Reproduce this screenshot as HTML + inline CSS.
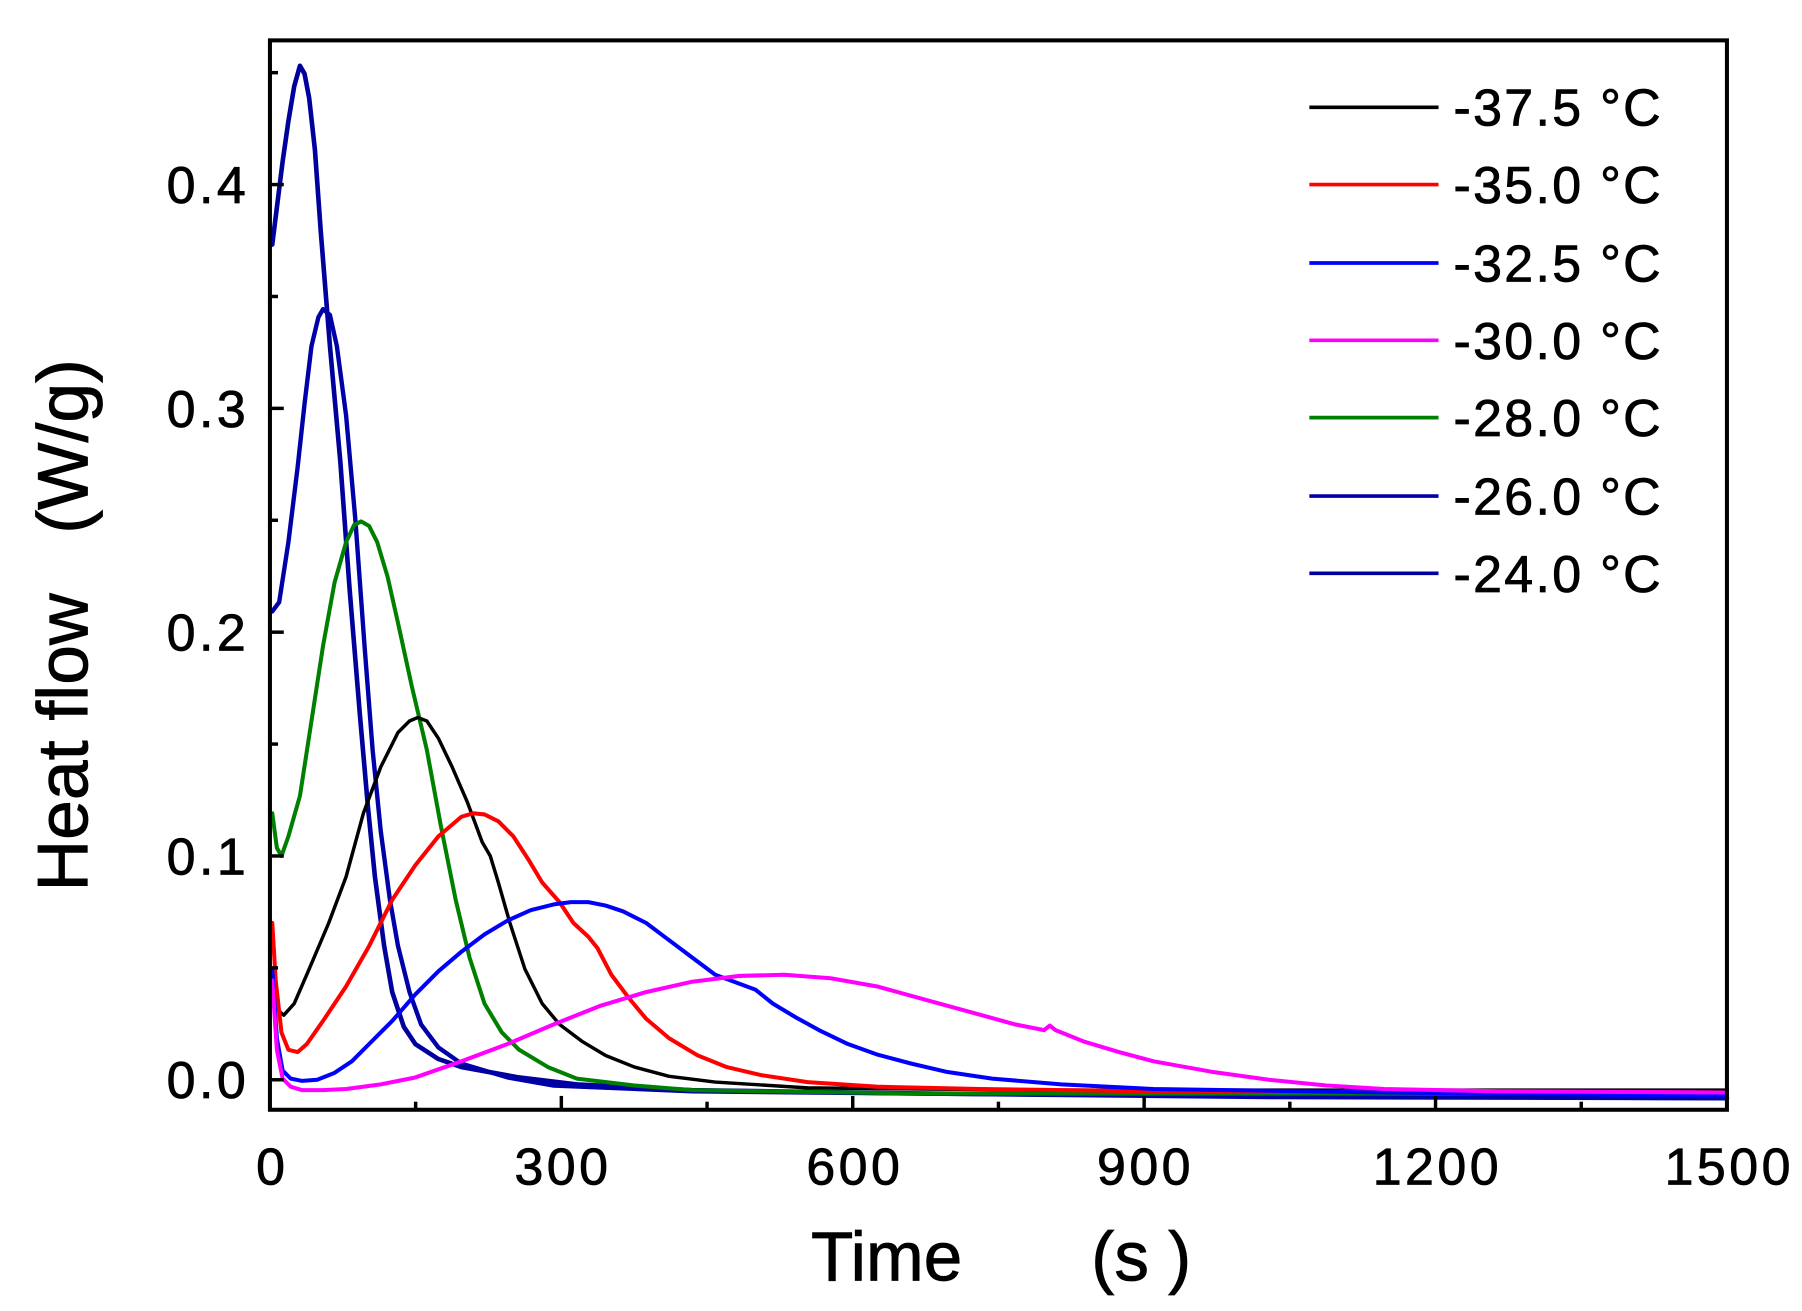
<!DOCTYPE html>
<html><head><meta charset="utf-8"><style>
html,body{margin:0;padding:0;background:#fff;}
svg{display:block;}
text{font-family:"Liberation Sans",Arial,sans-serif;fill:#000;stroke:#000;stroke-width:0.7;}
</style></head><body>
<svg width="1802" height="1311" viewBox="0 0 1802 1311" xmlns="http://www.w3.org/2000/svg">
<g transform="scale(1.1536)">
<g fill="none" stroke-linejoin="round" stroke-linecap="round">
<polyline stroke="#00009c" stroke-width="4" points="236,212 240,180 245,140 250,105 255,75 260,57 264,64 268,85 273,130 278,200 286,300 295,400 303,510 312,620 319,700 325,760 333,820 340,860 350,890 360,905 380,918 400,925 450,934 500,940 600,945 800,948 1100,950 1497,952"/>
<polyline stroke="#0000a8" stroke-width="3.8" points="236,530 242,522 250,470 258,405 264,350 270,300 276,275 280,268 286,273 292,300 300,360 308,450 316,560 323,650 330,720 338,780 345,820 355,860 365,888 380,908 400,922 440,934 480,941 600,946 800,948 1100,951 1497,952"/>
<polyline stroke="#008000" stroke-width="3.5" points="236,705 240,735 244,742 250,725 260,690 270,625 280,560 290,505 300,470 307,455 313,452 320,456 327,470 336,500 345,540 357,595 370,650 382,715 395,780 407,830 420,870 435,895 450,910 475,925 500,935 550,941 600,945 800,948 1497,948"/>
<polyline stroke="#000" stroke-width="3" points="236,850 240,875 246,880 255,870 268,840 285,800 300,760 315,705 330,665 345,635 355,625 362,622 370,625 380,640 392,665 405,695 418,730 425,742 432,765 442,800 455,840 470,870 485,888 505,903 525,915 550,925 580,933 620,938 700,943 900,945 1497,945"/>
<polyline stroke="#f00" stroke-width="3.5" points="236,800 239,850 244,895 250,910 258,912 266,905 280,885 300,855 320,820 340,780 360,750 380,725 400,708 410,705 420,706 432,712 445,725 458,745 470,765 485,782 497,800 510,812 518,822 530,845 545,865 560,883 580,900 605,915 630,925 660,932 700,938 760,942 850,944 1000,946 1497,947"/>
<polyline stroke="#0000ff" stroke-width="3.5" points="236,840 240,900 245,928 252,935 262,937 275,936 290,930 305,920 320,905 340,885 360,862 380,842 400,825 420,810 440,798 460,789 480,784 495,782 510,782 525,785 540,790 560,800 580,815 600,830 620,845 655,858 670,870 690,882 710,893 735,905 760,914 790,922 820,929 860,935 920,940 1000,944 1200,947 1497,950"/>
<polyline stroke="#ff00ff" stroke-width="3.5" points="236,850 240,910 245,935 252,942 262,945 280,945 300,944 330,940 360,934 400,920 440,905 480,888 520,872 560,860 600,851 640,846 680,845 720,848 760,855 800,866 840,877 880,888 905,893 910,889 915,893 940,903 970,912 1000,920 1050,929 1100,936 1150,941 1200,944 1300,946 1497,947"/>
</g>
<rect x="234" y="35" width="1263" height="927" fill="none" stroke="#000" stroke-width="3.5"/>
<g stroke="#000" stroke-width="3">
<line x1="234" y1="936" x2="246" y2="936"/><line x1="234" y1="742" x2="246" y2="742"/><line x1="234" y1="548" x2="246" y2="548"/><line x1="234" y1="354" x2="246" y2="354"/><line x1="234" y1="160" x2="246" y2="160"/>
<line x1="234" y1="839" x2="241" y2="839"/><line x1="234" y1="645" x2="241" y2="645"/><line x1="234" y1="451" x2="241" y2="451"/><line x1="234" y1="257" x2="241" y2="257"/><line x1="234" y1="63" x2="241" y2="63"/>
<line x1="486.6" y1="962" x2="486.6" y2="950"/><line x1="739.2" y1="962" x2="739.2" y2="950"/><line x1="991.8" y1="962" x2="991.8" y2="950"/><line x1="1244.4" y1="962" x2="1244.4" y2="950"/>
<line x1="360.3" y1="962" x2="360.3" y2="955"/><line x1="612.9" y1="962" x2="612.9" y2="955"/><line x1="865.5" y1="962" x2="865.5" y2="955"/><line x1="1118.1" y1="962" x2="1118.1" y2="955"/><line x1="1370.7" y1="962" x2="1370.7" y2="955"/>
</g>
<g font-size="45" text-anchor="end" letter-spacing="3">
<text x="216" y="952">0.0</text><text x="216" y="758">0.1</text><text x="216" y="564">0.2</text><text x="216" y="370">0.3</text><text x="216" y="176">0.4</text>
</g>
<g font-size="45" text-anchor="middle" letter-spacing="3">
<text x="236" y="1027">0</text><text x="488" y="1027">300</text><text x="741" y="1027">600</text><text x="993" y="1027">900</text><text x="1246" y="1027">1200</text><text x="1499" y="1027">1500</text>
</g>
<text x="703" y="1110" font-size="60">Time</text>
<text x="946" y="1110" font-size="60">(s )</text>
<text transform="translate(76,542) rotate(-90)" font-size="62" text-anchor="middle" xml:space="preserve">Heat flow   (W/g)</text>
<g stroke-width="3.2">
<line x1="1135" y1="93" x2="1247" y2="93" stroke="#000"/>
<line x1="1135" y1="160" x2="1247" y2="160" stroke="#f00"/>
<line x1="1135" y1="228" x2="1247" y2="228" stroke="#0000ff"/>
<line x1="1135" y1="295" x2="1247" y2="295" stroke="#ff00ff"/>
<line x1="1135" y1="362" x2="1247" y2="362" stroke="#008000"/>
<line x1="1135" y1="430" x2="1247" y2="430" stroke="#0000a8"/>
<line x1="1135" y1="497" x2="1247" y2="497" stroke="#00009c"/>
</g>
<g font-size="45" letter-spacing="2">
<text x="1260" y="109">-37.5 °C</text>
<text x="1260" y="176">-35.0 °C</text>
<text x="1260" y="244">-32.5 °C</text>
<text x="1260" y="311">-30.0 °C</text>
<text x="1260" y="378">-28.0 °C</text>
<text x="1260" y="446">-26.0 °C</text>
<text x="1260" y="513">-24.0 °C</text>
</g>
</g>
</svg>
</body></html>
